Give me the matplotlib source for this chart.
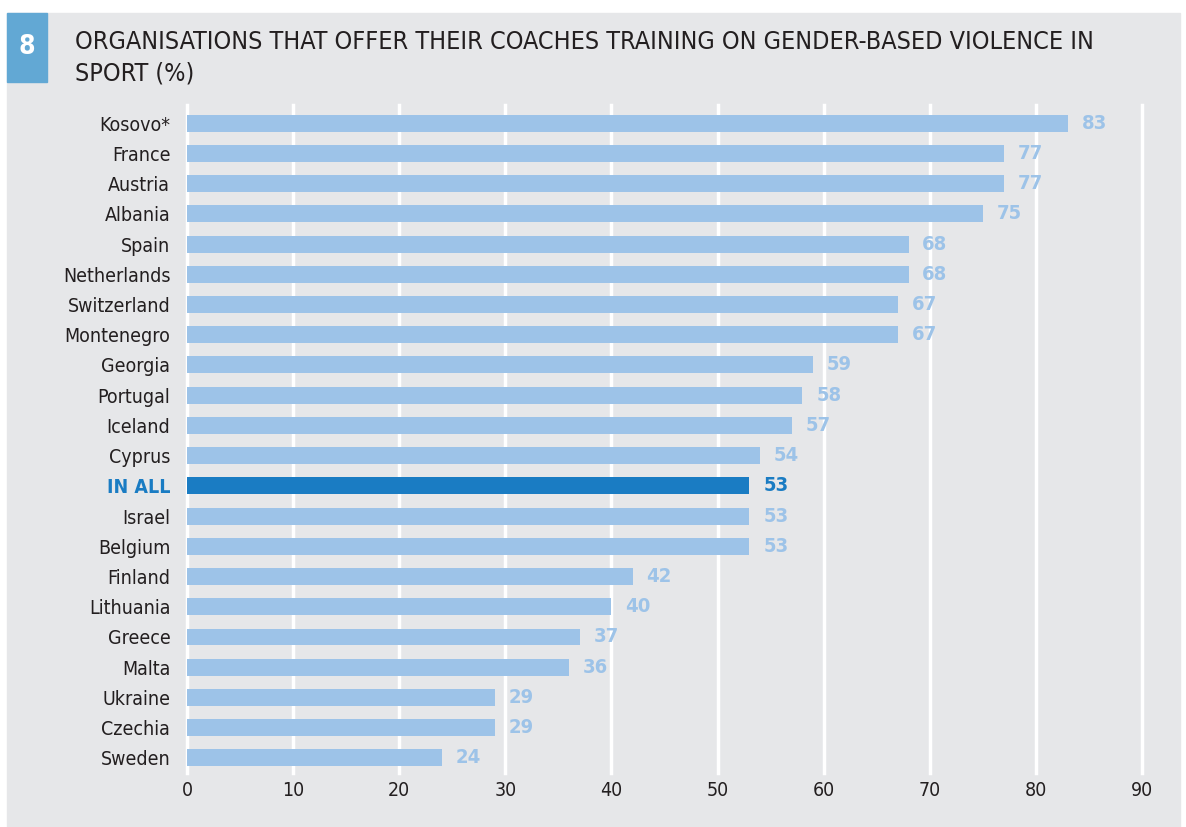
import matplotlib.pyplot as plt
import matplotlib.patches as mpatches

countries = ["Kosovo*", "France", "Austria", "Albania", "Spain", "Netherlands",
             "Switzerland", "Montenegro", "Georgia", "Portugal", "Iceland", "Cyprus",
             "IN ALL", "Israel", "Belgium", "Finland", "Lithuania", "Greece",
             "Malta", "Ukraine", "Czechia", "Sweden"]
values = [83, 77, 77, 75, 68, 68, 67, 67, 59, 58, 57, 54,
          53, 53, 53, 42, 40, 37, 36, 29, 29, 24]
x_ticks = [0, 10, 20, 30, 40, 50, 60, 70, 80, 90]

title = "ORGANISATIONS THAT OFFER THEIR COACHES TRAINING ON GENDER-BASED VIOLENCE IN\nSPORT (%)"

BG = "#E6E7E9"
LIGHT = "#9DC3E8"
DARK = "#1A7CC3"
TEXT = "#231F20"

plt.rcParams["font.family"] = ["DejaVu Sans"]
plt.rcParams["font.stretch"] = "condensed"

W, H = 1186, 827
fig = plt.figure(figsize=(W / 100, H / 100), dpi=100)
fig.patch.set_facecolor("white")

# grey panel + numbered box
fig.patches.append(mpatches.Rectangle((7 / W, 0), 1173 / W, 1 - 13 / H,
                                      transform=fig.transFigure, color=BG, zorder=-5))
fig.patches.append(mpatches.Rectangle((7 / W, 1 - 82 / H), 40 / W, 69 / H,
                                      transform=fig.transFigure, color="#62A8D4", zorder=-4))
fig.text(27 / W, 1 - 47 / H, "8", color="white", fontsize=19, fontweight="bold",
         ha="center", va="center")
fig.text(75 / W, 1 - 30 / H, title, color=TEXT, fontsize=18, ha="left", va="top",
         linespacing=1.38)

ax = fig.add_axes([187 / W, 1 - 773 / H, (1142 - 187) / W, (773 - 105) / H])
ax.set_zorder(2)
ax.set_facecolor(BG)

ypos = list(range(len(countries)))
colors = [DARK if c == "IN ALL" else LIGHT for c in countries]
ax.barh(ypos, values, height=0.56, color=colors, zorder=2)

for y, v, c in zip(ypos, values, countries):
    ax.text(v + 1.3, y, str(v), va="center", ha="left", fontsize=14.5,
            fontweight="bold", color=DARK if c == "IN ALL" else LIGHT)

ax.set_xlim(0, 90)
ax.set_ylim(21.5, -0.6)
ax.set_xticks(x_ticks)
ax.set_yticks(ypos)
ax.set_yticklabels(countries)
ax.tick_params(axis="both", length=0, labelsize=14, colors=TEXT)
ax.tick_params(axis="y", pad=12)
ax.tick_params(axis="x", pad=6)
for lbl in ax.get_yticklabels():
    if lbl.get_text() == "IN ALL":
        lbl.set_color(DARK)
        lbl.set_fontweight("bold")
ax.grid(axis="x", color="white", linewidth=2.5, zorder=1)
ax.set_axisbelow(True)
for line in ax.get_xgridlines():
    line.set_clip_on(False)
for s in ax.spines.values():
    s.set_visible(False)

fig.savefig("out.png", dpi=100, facecolor=fig.get_facecolor())
